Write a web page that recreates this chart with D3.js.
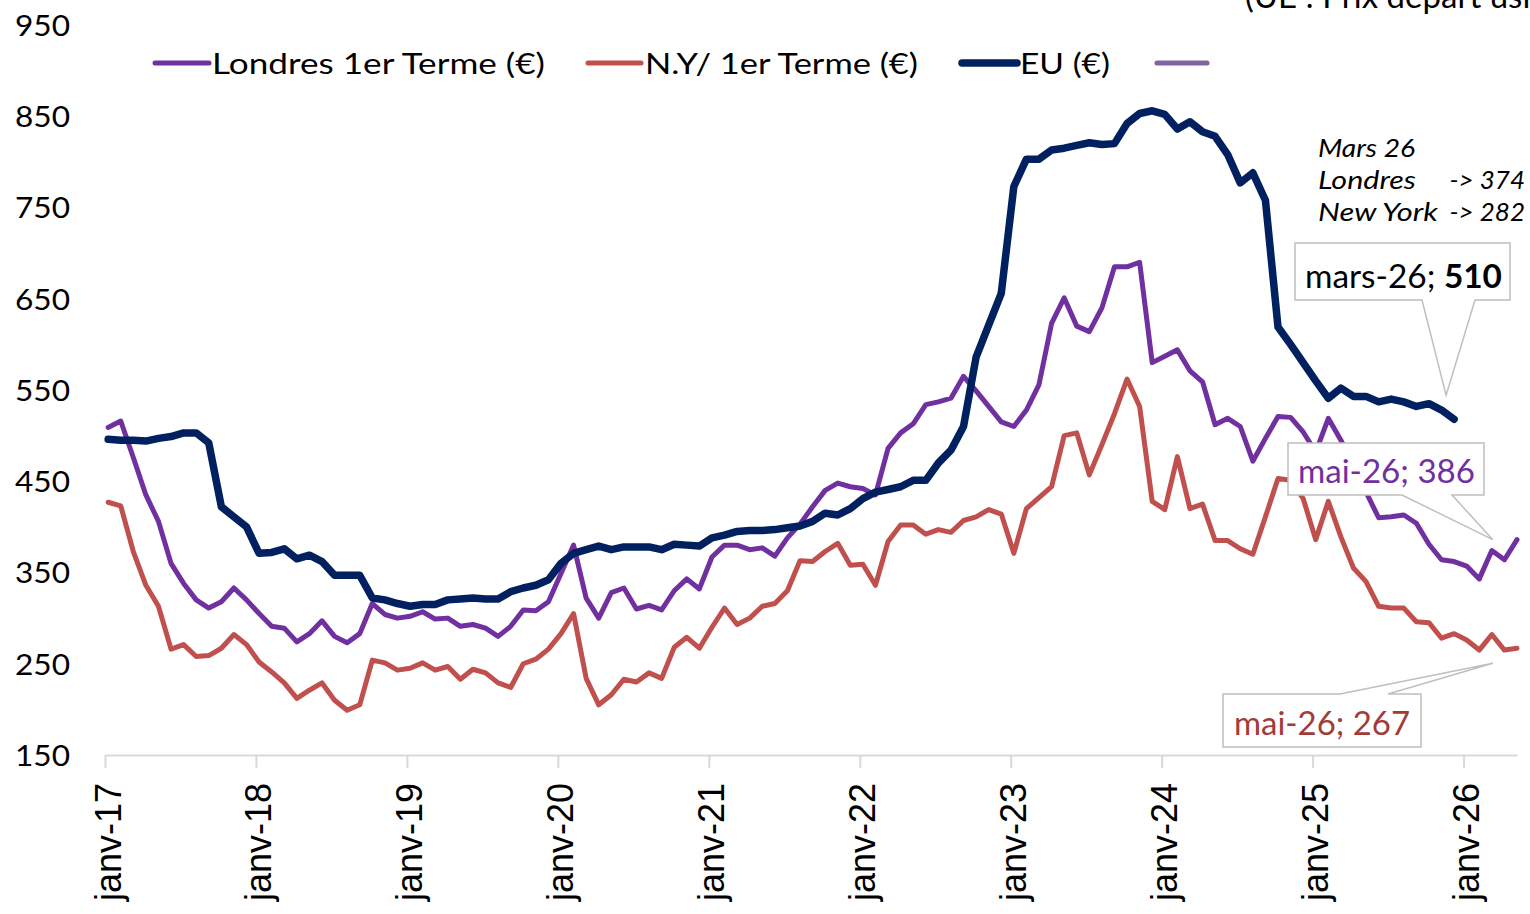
<!DOCTYPE html>
<html>
<head>
<meta charset="utf-8">
<script src="https://cdn.jsdelivr.net/npm/d3@7/dist/d3.min.js"></script>
<style>
	body{margin:0; background:#fff;}
	svg{display:block;}
	text{font-family:Lato, 'Noto Sans', sans-serif; fill:#000;}
</style>
</head>
<body>
<div class="container"></div>
<script>
//monthly prices, first point = janv-17
const tickLabels = ['janv-17','janv-18','janv-19','janv-20','janv-21','janv-22','janv-23','janv-24','janv-25','janv-26'];
const yTicks = [150, 250, 350, 450, 550, 650, 750, 850, 950];

const londres = [509,516,476,435,406,360,338,320,311,318,333,320,305,291,289,274,283,297,280,273,
	283,316,304,300,302,307,299,300,291,293,289,280,291,309,308,318,349,380,322,300,
	328,333,310,314,309,330,343,332,367,380,380,375,377,368,388,403,422,440,448,444,
	442,435,486,503,513,534,537,541,565,549,532,515,510,528,556,623,651,620,614,640,
	685,685,690,580,587,594,571,559,512,519,510,472,497,521,520,504,482,519,495,466,
	438,410,411,413,404,381,364,362,357,343,374,364,386];

const newYork = [427,423,373,336,313,266,271,258,259,267,282,271,252,241,229,212,221,229,210,199,
	205,254,251,243,245,251,243,247,233,244,240,229,224,250,255,266,283,305,234,205,
	216,233,230,240,234,268,279,267,290,311,293,300,313,316,330,363,362,373,382,358,
	359,336,384,402,402,392,397,394,407,411,419,414,371,420,432,444,500,503,457,490,
	524,562,532,428,419,477,420,425,385,385,376,370,411,453,451,431,386,428,389,355,
	340,313,311,311,296,295,278,283,276,265,282,265,267];

const eu = [496,495,495,494,497,499,503,503,492,422,411,400,371,372,376,365,369,362,347,347,
	347,322,320,316,313,315,315,320,321,322,321,321,329,333,336,342,360,371,375,379,
	375,378,378,378,375,381,380,379,388,391,395,396,396,397,399,401,406,415,413,420,
	431,438,441,444,451,451,470,484,510,586,621,656,773,803,803,813,815,818,821,819,
	820,842,853,856,852,836,844,833,828,808,777,788,758,619,600,580,560,541,552,543,
	543,537,540,537,532,535,528,518];

const series = [
	{name:'Londres 1er Terme (€)', values:londres, color:'#7030A0', width:5},
	{name:'N.Y/ 1er Terme (€)', values:newYork, color:'#C0504D', width:5},
	{name:'EU (€)', values:eu, color:'#002060', width:7.5}
];

const W = 1530, H = 914;

const svg = d3.select('.container')
	.append('svg')
	.attr('width', W)
	.attr('height', H);

//x is the month index; points sit a few days after the 1st of the month
const x = d3.scaleLinear().domain([-0.25, 112]).range([105, 1517]);
const y = d3.scaleLinear().domain([150, 950]).range([755, 25]);

function fit(sel, w){
	sel.attr('textLength', w).attr('lengthAdjust', 'spacingAndGlyphs');
}

//title, cut by the top edge as in the source picture
svg.append('text')
	.attr('x', 1245)
	.attr('y', 8)
	.style('font-size', '33px')
	.text('(UE : Prix départ usine)');

//y axis labels only
const yAxis = svg.append('g')
	.attr('transform', 'translate(70,0)')
	.call(d3.axisLeft(y).tickValues(yTicks).tickSize(0).tickPadding(0));
yAxis.select('.domain').remove();
yAxis.selectAll('text')
	.attr('dy', '0.36em')
	.style('font-family', 'Lato, sans-serif')
	.style('font-size', '29px')
	.style('fill', '#000')
	.call(fit, 55);

//x axis
const xAxis = svg.append('g')
	.attr('transform', 'translate(0,755)')
	.call(d3.axisBottom(x)
		.tickValues(tickLabels.map(function(d, i){ return i*12 - 0.25; }))
		.tickFormat(function(d, i){ return tickLabels[i]; })
		.tickSize(13)
		.tickSizeOuter(0));
xAxis.select('.domain').attr('stroke', '#D9D9D9').attr('stroke-width', 2);
xAxis.selectAll('.tick line').attr('stroke', '#D9D9D9').attr('stroke-width', 2);
xAxis.selectAll('.tick text')
	.attr('x', 0)
	.attr('y', 0)
	.attr('dy', 0)
	.attr('text-anchor', 'end')
	.attr('transform', 'translate(15,28) rotate(-90)')
	.style('font-family', "'Liberation Sans', Arial, sans-serif")
	.style('font-size', '36px')
	.style('fill', '#000');

//lines
const line = d3.line()
	.x(function(d, i){ return x(i); })
	.y(function(d){ return y(d); });

svg.selectAll('.series')
	.data(series)
	.enter()
	.append('path')
	.attr('class', 'series')
	.attr('d', function(d){ return line(d.values); })
	.attr('fill', 'none')
	.attr('stroke', function(d){ return d.color; })
	.attr('stroke-width', function(d){ return d.width; })
	.attr('stroke-linejoin', 'round')
	.attr('stroke-linecap', 'round');

//legend
const legendItems = [
	{x1:155, x2:209, tx:212, tw:333, s:series[0]},
	{x1:588, x2:641, tx:645, tw:273, s:series[1]},
	{x1:962, x2:1017, tx:1020, tw:90, s:series[2]}
];
const legend = svg.append('g').attr('class', 'legend');
legendItems.forEach(function(d){
	legend.append('line')
		.attr('x1', d.x1).attr('x2', d.x2)
		.attr('y1', 63).attr('y2', 63)
		.attr('stroke', d.s.color)
		.attr('stroke-width', d.s.width)
		.attr('stroke-linecap', 'round');
	legend.append('text')
		.attr('x', d.tx)
		.attr('y', 74)
		.style('font-size', '29px')
		.text(d.s.name)
		.call(fit, d.tw);
});
legend.append('line')
	.attr('x1', 1157).attr('x2', 1207)
	.attr('y1', 63).attr('y2', 63)
	.attr('stroke', '#8064A2')
	.attr('stroke-width', 5)
	.attr('stroke-linecap', 'round');

//note in italics
const note = svg.append('g')
	.style('font-style', 'italic')
	.style('font-size', '26px');
note.append('text').attr('x', 1318).attr('y', 157).text('Mars 26').call(fit, 97);
note.append('text').attr('x', 1318).attr('y', 189).text('Londres').call(fit, 98);
note.append('text').attr('x', 1525).attr('y', 189).attr('text-anchor', 'end').text('-> ' + londres[110]);
note.append('text').attr('x', 1318).attr('y', 221).text('New York').call(fit, 120);
note.append('text').attr('x', 1525).attr('y', 221).attr('text-anchor', 'end').text('-> ' + newYork[110]);

//callouts: box with a pointer going to the point
function callout(bx, by, bw, bh, p1, p2, tip, onTop){
	let p;
	if(!onTop){
		p = [[bx,by],[bx+bw,by],[bx+bw,by+bh],[p2,by+bh],tip,[p1,by+bh],[bx,by+bh]];
	}else{
		p = [[bx,by],[p1,by],tip,[p2,by],[bx+bw,by],[bx+bw,by+bh],[bx,by+bh]];
	}
	return svg.append('path')
		.attr('d', 'M' + p.join('L') + 'Z')
		.attr('fill', '#fff')
		.attr('stroke', '#BFBFBF')
		.attr('stroke-width', 1.5);
}

callout(1295, 243, 215, 57, 1422, 1475, [x(107) - 8, y(eu[107]) - 24], false);
const euLabel = svg.append('text')
	.attr('x', 1305).attr('y', 288)
	.style('font-size', '32px')
	.call(fit, 197);
euLabel.append('tspan').text('mars-26; ');
euLabel.append('tspan').style('font-weight', 'bold').text('510');

callout(1288, 443, 196, 52, 1402, 1452, [x(110) + 1, y(londres[112])], false);
svg.append('text')
	.attr('x', 1298).attr('y', 483)
	.style('font-size', '32px')
	.style('fill', '#7030A0')
	.text('mai-26; ' + londres[112])
	.call(fit, 177);

callout(1223, 694, 198, 53, 1340, 1388, [x(110) + 1, y(newYork[112]) + 15], true);
svg.append('text')
	.attr('x', 1234).attr('y', 735)
	.style('font-size', '32px')
	.style('fill', '#A23B38')
	.text('mai-26; ' + newYork[112])
	.call(fit, 176);
</script>
</body>
</html>
